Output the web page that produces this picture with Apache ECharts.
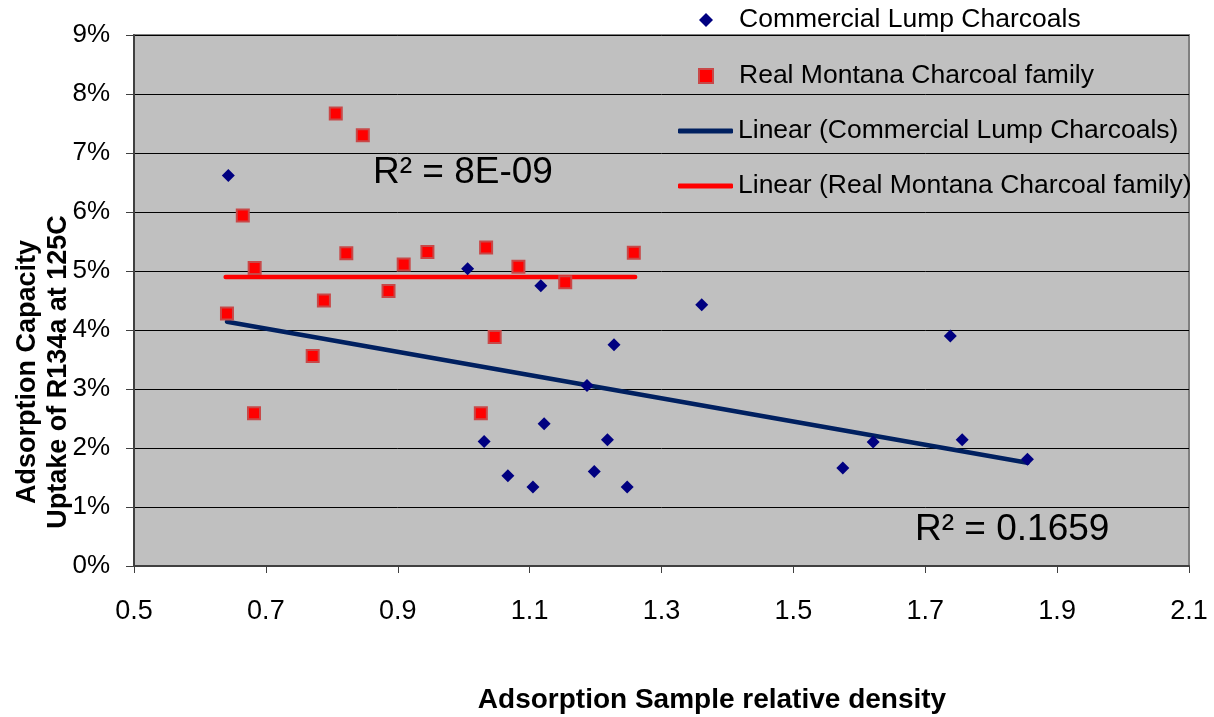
<!DOCTYPE html>
<html>
<head>
<meta charset="utf-8">
<script src="https://cdn.jsdelivr.net/npm/echarts@6/dist/echarts.min.js"></script>
<style>
html,body{margin:0;padding:0;background:#fff;}
#chart{width:1214px;height:717px;}
</style>
</head>
<body>
<div id="chart"></div>
<script>
// ---- data ----
const commercialX = [0.643, 1.006, 1.117, 1.361, 1.228, 1.738, 1.187, 1.122, 1.031, 1.218, 1.621, 1.756, 1.855, 1.575, 1.198, 1.067, 1.105, 1.248];
const commercialY = [6.62, 5.04, 4.75, 4.43, 3.75, 3.90, 3.06, 2.41, 2.11, 2.14, 2.10, 2.14, 1.81, 1.66, 1.60, 1.53, 1.34, 1.34];
const montanaX = [0.806, 0.847, 0.665, 0.683, 0.822, 0.909, 0.886, 0.788, 0.641, 0.771, 0.682, 0.945, 1.034, 1.083, 1.154, 1.258, 1.047, 1.026];
const montanaY = [7.67, 7.30, 5.94, 5.05, 5.30, 5.11, 4.66, 4.50, 4.28, 3.56, 2.59, 5.32, 5.40, 5.07, 4.81, 5.31, 3.88, 2.59];
const commercialTrendX = [0.641, 1.855];
const commercialTrendY = [4.14, 1.75];
const montanaTrendX = [0.639, 1.260];
const montanaTrendY = [4.90, 4.90];
const seriesNames = ['Commercial Lump Charcoals', 'Real Montana Charcoal family',
  'Linear (Commercial Lump Charcoals)', 'Linear (Real Montana Charcoal family)'];
const r2Labels = ['R\u00b2 = 8E-09', 'R\u00b2 = 0.1659'];
const xTitle = 'Adsorption Sample relative density';
const yTitle = 'Adsorption Capacity\nUptake of R134a at 125C';

const zip = (xs, ys) => xs.map((x, i) => [x, ys[i]]);
const FONT = 'Arial, "Liberation Sans", sans-serif';
const BLUE_LINE = '#002060';
const RED = '#FF0000';

const chart = echarts.init(document.getElementById('chart'), null, {renderer: 'canvas'});
chart.setOption({
  animation: false,
  backgroundColor: '#ffffff',
  grid: {
    left: 134, right: 25, top: 35, bottom: 151,
    show: true, backgroundColor: '#C0C0C0', borderColor: '#808080', borderWidth: 2
  },
  xAxis: {
    type: 'value', min: 0.5, max: 2.1, interval: 0.2,
    axisLine: {show: true, onZero: false, lineStyle: {color: '#404040', width: 2}},
    axisTick: {show: true, inside: false, length: 7, lineStyle: {color: '#404040', width: 1}},
    splitLine: {show: false},
    axisLabel: {fontSize: 27, fontFamily: FONT, color: '#000', margin: 32,
      formatter: v => v.toFixed(1)}
  },
  yAxis: {
    type: 'value', min: 0, max: 9, interval: 1,
    axisLine: {show: true, lineStyle: {color: '#404040', width: 2}},
    axisTick: {show: true, inside: false, length: 8, lineStyle: {color: '#404040', width: 1}},
    splitLine: {show: true, lineStyle: {color: '#000000', width: 1}},
    axisLabel: {fontSize: 26, fontFamily: FONT, color: '#000', margin: 24,
      formatter: '{value}%'}
  },
  legend: [
    {
      data: [seriesNames[0], seriesNames[1]],
      orient: 'vertical', left: 698, top: 5, padding: 0,
      itemWidth: 14, itemHeight: 14, itemGap: 26,
      textStyle: {fontSize: 26.5, fontFamily: FONT, color: '#000', lineHeight: 30, padding: [0, 0, 0, 21]}
    },
    {
      data: [
        {name: seriesNames[2], icon: 'roundRect', itemStyle: {color: BLUE_LINE}},
        {name: seriesNames[3], icon: 'roundRect', itemStyle: {color: RED}}
      ],
      orient: 'vertical', left: 678, top: 116, padding: 0,
      itemWidth: 55, itemHeight: 5, itemGap: 25,
      textStyle: {fontSize: 26.5, fontFamily: FONT, color: '#000', lineHeight: 30}
    }
  ],
  series: [
    {
      name: seriesNames[2], type: 'line', data: zip(commercialTrendX, commercialTrendY),
      symbol: 'none', z: 2,
      lineStyle: {color: BLUE_LINE, width: 4.5, cap: 'round'},
      itemStyle: {color: BLUE_LINE}
    },
    {
      name: seriesNames[3], type: 'line', data: zip(montanaTrendX, montanaTrendY),
      symbol: 'none', z: 2,
      lineStyle: {color: RED, width: 4.5, cap: 'round'},
      itemStyle: {color: RED}
    },
    {
      name: seriesNames[0], type: 'scatter', data: zip(commercialX, commercialY),
      symbol: 'diamond', symbolSize: 13, z: 3,
      itemStyle: {color: '#000080', opacity: 1}
    },
    {
      name: seriesNames[1], type: 'scatter', data: zip(montanaX, montanaY),
      symbol: 'rect', symbolSize: 12, z: 3,
      itemStyle: {color: RED, borderColor: '#C84848', borderWidth: 2, opacity: 1}
    }
  ],
  graphic: [
    {type: 'text', left: 373, top: 170 - 16, z: 10,
      style: {text: r2Labels[0], font: '37px ' + FONT, fill: '#000'}},
    {type: 'text', left: 915, top: 527 - 16, z: 10,
      style: {text: r2Labels[1], font: '37px ' + FONT, fill: '#000'}},
    {type: 'text', x: 43, y: 372, rotation: Math.PI / 2, z: 10,
      style: {text: yTitle, font: 'bold 27px ' + FONT, fill: '#000', lineHeight: 31,
        textAlign: 'center', textVerticalAlign: 'middle', align: 'center', verticalAlign: 'middle'}},
    {type: 'text', x: 712, y: 700, z: 10,
      style: {text: xTitle, font: 'bold 28px ' + FONT, fill: '#000',
        textAlign: 'center', textVerticalAlign: 'middle', align: 'center', verticalAlign: 'middle'}}
  ]
});
</script>
</body>
</html>
